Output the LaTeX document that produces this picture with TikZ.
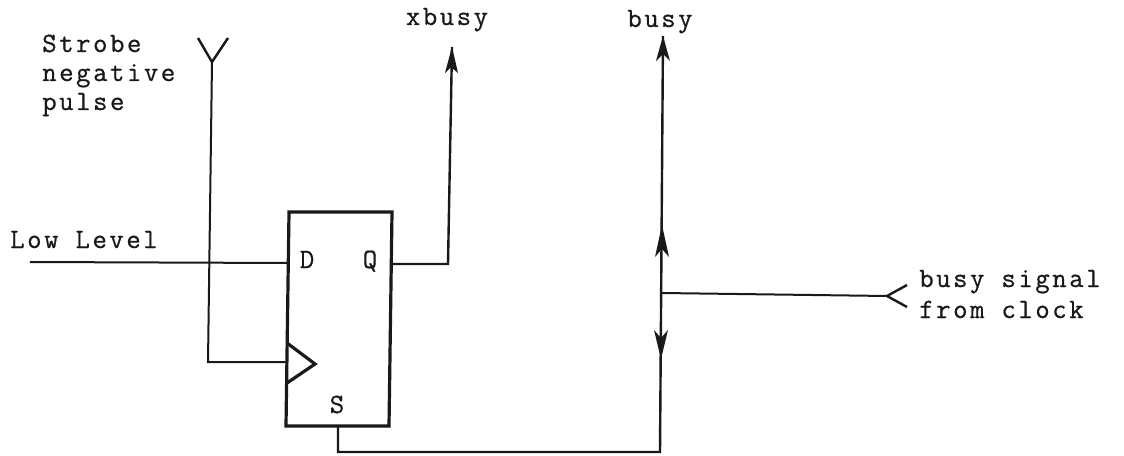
\documentclass[tikz,border=0pt]{standalone}
\usepackage{fontspec}
\setmainfont{Latin Modern Mono}[LetterSpace=9,FakeBold=0.6]
\tikzset{
  wire/.style={line width=1.5pt,black!90,line join=miter},
  box/.style={line width=2.4pt,black!90,line join=miter},
  lab/.style={inner sep=0pt,font=\fontsize{21pt}{22pt}\selectfont,text=black!90},
  head/.style={fill=black!90,draw=none}
}
\begin{document}
\begin{tikzpicture}[x=0.75pt,y=-0.75pt]
\useasboundingbox (0,0) rectangle (1124,456);
\fill[white] (0,0) rectangle (1124,456);
\draw[box] (289,212) -- (392,212) -- (389,426) -- (286,426) -- cycle;
\node[lab,anchor=base west] (strobeA) at (42,52) {Strobe};
\node[lab,anchor=base west] (strobeB) at (42,81) {negative};
\node[lab,anchor=base west] (strobeC) at (42,110) {pulse};
\node[lab,anchor=base west] (low) at (10,248) {Low Level};
\node[lab,anchor=base] (xbusy) at (447,25) {xbusy};
\node[lab,anchor=base] (busy) at (660,27) {busy};
\node[lab,anchor=base west] (clkA) at (919,287) {busy signal};
\node[lab,anchor=base west] (clkB) at (919,318) {from clock};
\node[lab,anchor=base] (D) at (307,268) {D};
\node[lab,anchor=base] (Q) at (370,268) {Q};
\node[lab,anchor=base] (S) at (337,413) {S};
\coordinate (dIn) at (30,262);
\coordinate (dPin) at (288,263);
\coordinate (qPin) at (392,264);
\coordinate (xEnd) at (452,47);
\coordinate (xCorner) at (448,264);
\coordinate (antBase) at (212,62);
\coordinate (ckCorner) at (208,362);
\coordinate (ckPin) at (287,362);
\coordinate (sPin) at (338,426);
\coordinate (sCorner) at (338,452);
\coordinate (bBot) at (660,452);
\coordinate (bTop) at (663,36);
\coordinate (bJ) at (662,293);
\coordinate (cEnd) at (887,296);
% wires
\draw[wire] (dIn) -- (dPin);
\draw[wire,line width=1.8pt] (qPin) -- (xCorner) -- (xEnd);
\draw[wire] (antBase) -- (ckCorner) -- (ckPin);
\draw[wire,line width=1.8pt] (198,38) -- (antBase) -- (228,38);
\draw[box] (287,343) -- (315,364) -- (287,383);
\draw[wire,line width=1.8pt] (sPin) -- (sCorner) -- (bBot) -- (bTop);
\draw[wire] (bJ) -- (cEnd);
\draw[wire,line width=1.8pt] (907,285) -- (cEnd) -- (907,307);
\fill[head] (452,47) -- (445,73) -- (451,67) -- (458,73) -- cycle;
\fill[head] (663,36) -- (656,61) -- (663,54) -- (670,61) -- cycle;
\fill[head] (662,225) -- (655,257) -- (662,249) -- (669,257) -- cycle;
\fill[head] (661,359) -- (654,330) -- (661,338) -- (668,330) -- cycle;
\end{tikzpicture}
\end{document}
